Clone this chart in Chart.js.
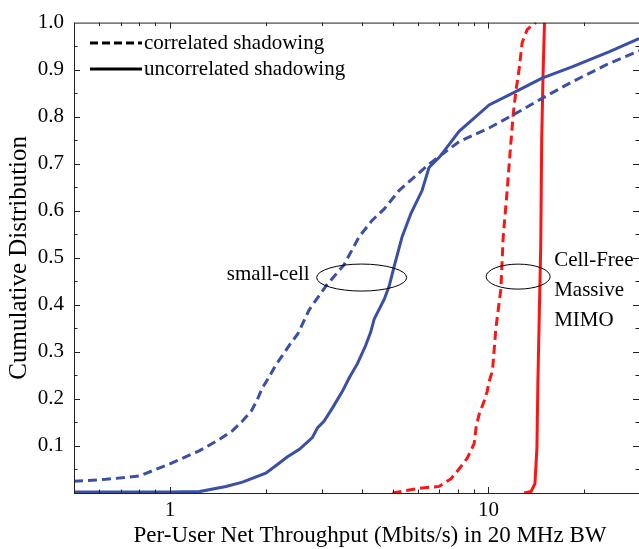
<!DOCTYPE html>
<html>
<head>
<meta charset="utf-8">
<script src="https://cdn.jsdelivr.net/npm/chart.js@4.4.1/dist/chart.umd.min.js"></script>
<style>
  html, body { margin: 0; padding: 0; background: #fff; }
  #wrap { width: 639px; height: 549px; }
</style>
</head>
<body>
<div id="wrap"><canvas id="cdfChart" width="639" height="549"></canvas></div>
<script>
// throughput (Mbit/s), with the CDF value at each point
const corrSmallX = [0.5, 0.63, 0.8, 1.0, 1.24, 1.43, 1.57, 1.69, 1.80, 1.88, 1.95, 2.05, 2.15, 2.26, 2.37, 2.52, 2.74, 3.09, 3.52, 3.93, 4.32, 4.71, 5.24, 6.51, 8.09, 10.05, 12.49, 14.74, 18.3, 23.4, 29.7];
const corrSmallY = [0.025, 0.029, 0.036, 0.062, 0.09, 0.114, 0.132, 0.153, 0.174, 0.198, 0.223, 0.247, 0.272, 0.293, 0.314, 0.338, 0.39, 0.44, 0.485, 0.545, 0.58, 0.604, 0.643, 0.699, 0.747, 0.776, 0.811, 0.839, 0.874, 0.91, 0.94];

const uncorrSmallX = [0.5, 1.0, 1.24, 1.50, 1.69, 2.0, 2.15, 2.34, 2.55, 2.80, 2.91, 3.05, 3.24, 3.48, 3.65, 3.88, 4.12, 4.27, 4.38, 4.71, 4.88, 5.06, 5.36, 5.71, 6.19, 6.51, 7.0, 7.53, 8.09, 10.05, 12.49, 14.74, 18.3, 23.9, 29.7];
const uncorrSmallY = [0.002, 0.002, 0.003, 0.014, 0.023, 0.042, 0.058, 0.077, 0.093, 0.118, 0.139, 0.153, 0.181, 0.216, 0.244, 0.275, 0.314, 0.342, 0.37, 0.412, 0.44, 0.482, 0.545, 0.594, 0.643, 0.692, 0.713, 0.741, 0.769, 0.825, 0.857, 0.882, 0.906, 0.938, 0.966];

const corrFreeX = [5.0, 6.06, 7.0, 7.62, 8.09, 8.58, 9.02, 9.15, 9.35, 9.69, 9.91, 10.05, 10.3, 10.55, 10.94, 11.13, 11.45, 11.75, 11.96, 12.19, 12.49, 12.76, 13.23, 13.71, 14.1];
const corrFreeY = [0.0, 0.01, 0.014, 0.03, 0.051, 0.074, 0.105, 0.14, 0.167, 0.195, 0.216, 0.237, 0.26, 0.349, 0.433, 0.545, 0.643, 0.741, 0.804, 0.853, 0.902, 0.957, 0.985, 0.994, 1.0];

const uncorrFreeX = [12.95, 13.6, 14.0, 14.2, 14.3, 14.6, 14.7, 14.85, 15.0];
const uncorrFreeY = [0.0, 0.003, 0.02, 0.096, 0.237, 0.53, 0.755, 0.895, 1.0];

// x axis ticks (log) and which of them carry a label
const xTickValues = [0.5, 0.6, 0.7, 0.8, 0.9, 1, 2, 3, 4, 5, 6, 7, 8, 9, 10, 20];
const xTickLabels = [1, 10];

const BLUE = '#3a4fa6';
const RED = '#ff1414';
const FONT = '"Liberation Serif", "Times New Roman", serif';

function pts(xs, ys) {
  return xs.map((x, i) => ({ x: x, y: ys[i] }));
}

// inward ticks on all four sides + frame + legend + annotations
const decorPlugin = {
  id: 'decor',
  afterDatasetsDraw(chart) {
    const { ctx, chartArea: a, scales } = chart;
    const xs = scales.x, ys = scales.y;
    ctx.save();
    ctx.strokeStyle = '#222';
    ctx.lineWidth = 1;
    ctx.strokeRect(a.left + 0.5, a.top + 0.5, a.right - a.left, a.bottom - a.top);

    ctx.beginPath();
    xTickValues.forEach(v => {
      const px = Math.round(xs.getPixelForValue(v)) + 0.5;
      const len = xTickLabels.includes(v) ? 6 : 3.5;
      ctx.moveTo(px, a.bottom); ctx.lineTo(px, a.bottom - len);
      ctx.moveTo(px, a.top); ctx.lineTo(px, a.top + len);
    });
    for (let i = 1; i < 20; i++) {
      const v = i * 0.05;
      const py = Math.round(ys.getPixelForValue(v)) + 0.5;
      const len = i % 2 === 0 ? 6 : 3.5;
      ctx.moveTo(a.left, py); ctx.lineTo(a.left + len, py);
      ctx.moveTo(a.right, py); ctx.lineTo(a.right - len, py);
    }
    ctx.stroke();

    // legend
    ctx.strokeStyle = '#000';
    ctx.lineWidth = 3;
    ctx.setLineDash([8, 4]);
    ctx.beginPath(); ctx.moveTo(a.left + 16, 43); ctx.lineTo(a.left + 68, 43); ctx.stroke();
    ctx.setLineDash([]);
    ctx.beginPath(); ctx.moveTo(a.left + 16, 69); ctx.lineTo(a.left + 68, 69); ctx.stroke();
    ctx.fillStyle = '#000';
    ctx.font = '21px ' + FONT;
    ctx.textBaseline = 'middle';
    ctx.textAlign = 'left';
    ctx.fillText('correlated shadowing', a.left + 70, 43);
    ctx.fillText('uncorrelated shadowing', a.left + 70, 69);

    // ellipses
    ctx.lineWidth = 1;
    const e1x = xs.getPixelForValue(4.0), e1y = ys.getPixelForValue(0.458);
    ctx.beginPath(); ctx.ellipse(e1x, e1y, 45, 13.5, 0, 0, Math.PI * 2); ctx.stroke();
    const e2x = xs.getPixelForValue(12.4), e2y = ys.getPixelForValue(0.46);
    ctx.beginPath(); ctx.ellipse(e2x, e2y, 32, 12.5, 0, 0, Math.PI * 2); ctx.stroke();

    ctx.textAlign = 'right';
    ctx.fillText('small-cell', e1x - 52, e1y - 3);
    ctx.textAlign = 'left';
    ctx.fillText('Cell-Free', e2x + 36, e2y - 16);
    ctx.fillText('Massive', e2x + 36, e2y + 14);
    ctx.fillText('MIMO', e2x + 36, e2y + 44);

    // x axis title (the original plot is cropped on the right, so it sits right of centre)
    ctx.font = '23px ' + FONT;
    ctx.textAlign = 'center';
    ctx.fillText('Per-User Net Throughput (Mbits/s) in 20 MHz BW', 370, 536);
    ctx.restore();
  }
};

const ctx = document.getElementById('cdfChart').getContext('2d');
const cdfChart = new Chart(ctx, {
  type: 'line',
  data: {
    datasets: [
      { label: 'small-cell, correlated', data: pts(corrSmallX, corrSmallY), borderColor: BLUE, borderDash: [9, 5] },
      { label: 'small-cell, uncorrelated', data: pts(uncorrSmallX, uncorrSmallY), borderColor: BLUE },
      { label: 'cell-free, correlated', data: pts(corrFreeX, corrFreeY), borderColor: RED, borderDash: [9, 5] },
      { label: 'cell-free, uncorrelated', data: pts(uncorrFreeX, uncorrFreeY), borderColor: RED }
    ]
  },
  options: {
    responsive: false,
    animation: false,
    parsing: false,
    layout: { padding: { top: 17, right: 0, left: 0, bottom: 0 } },
    elements: {
      line: { borderWidth: 3, tension: 0, fill: false },
      point: { radius: 0 }
    },
    plugins: {
      legend: { display: false },
      tooltip: { enabled: false }
    },
    scales: {
      x: {
        type: 'logarithmic',
        min: 0.5,
        max: 29.7,
        afterBuildTicks: scale => { scale.ticks = xTickValues.map(v => ({ value: v })); },
        afterFit: scale => { scale.height = 56; },
        grid: { display: false, drawTicks: false },
        border: { display: false },
        ticks: {
          autoSkip: false,
          maxRotation: 0,
          padding: 5,
          color: '#000',
          font: { family: FONT, size: 21 },
          callback: v => xTickLabels.includes(v) ? String(v) : ''
        },
        title: { display: false }
      },
      y: {
        min: 0,
        max: 1,
        afterFit: scale => { scale.width = 74; },
        grid: { display: false, drawTicks: false },
        border: { display: false },
        ticks: {
          stepSize: 0.1,
          padding: 10,
          color: '#000',
          font: { family: FONT, size: 21 },
          callback: v => v === 0 ? '' : v.toFixed(1)
        },
        title: {
          display: true,
          text: 'Cumulative Distribution',
          color: '#000',
          font: { family: FONT, size: 25 },
          padding: { top: 4, bottom: 0 }
        }
      }
    }
  },
  plugins: [decorPlugin]
});
</script>
</body>
</html>
